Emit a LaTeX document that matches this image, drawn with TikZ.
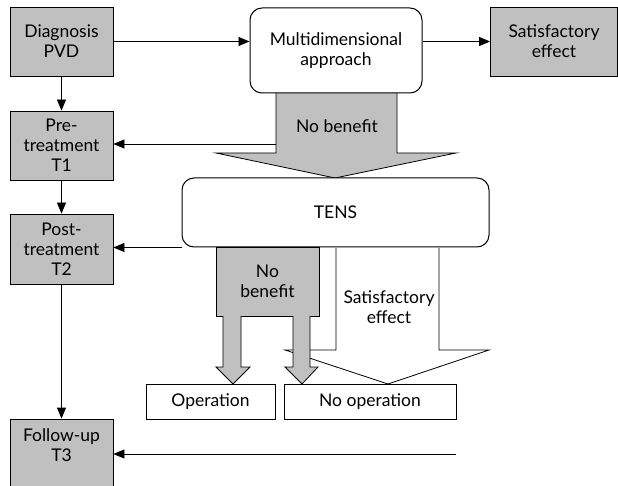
\documentclass[tikz,border=0pt]{standalone}
\usepackage{fontspec}
\setmainfont{Lato}
\usepackage{xcolor}
\usetikzlibrary{arrows.meta}
\definecolor{boxgray}{HTML}{C0C0C0}

\begin{document}
\begin{tikzpicture}[x=1pt,y=-1pt,
    font=\fontsize{17.5}{20}\selectfont,
    every path/.style={line width=0.8pt},
    graybox/.style={shape=rectangle, draw, fill=boxgray, align=center, inner sep=2pt},
    roundbox/.style={shape=rectangle, draw, fill=white, rounded corners=12pt, align=center, line width=1pt},
    whitebox/.style={shape=rectangle, draw, fill=white, align=center, inner sep=2pt},
    flow/.style={-{Triangle[length=11pt,width=9pt]}},
    blockarrow/.style={draw, fill=boxgray, line join=miter}]
    \useasboundingbox (0,0) rectangle (618,486);

    \node[graybox, minimum width=103, minimum height=69] (diag) at (61.5,41.5) {Diagnosis\\PVD};
    \node[graybox, minimum width=103, minimum height=69] (pre) at (61.5,145.5) {Pre-\\treatment\\T1};
    \node[graybox, minimum width=103, minimum height=70] (post) at (61.5,249) {Post-\\treatment\\T2};
    \node[graybox, minimum width=103, minimum height=70, text depth=18pt] (follow) at (61.5,454) {Follow-up\\T3};
    \node[graybox, minimum width=127, minimum height=69] (satis) at (554,41.5) {Satisfactory\\effect};

    \draw[blockarrow] (276,90) -- (276,153) -- (216,153) -- (335,178) -- (456,153) -- (397,153) -- (397,90);
    \node (nb1) at (337,126) {No benefit};
    \coordinate (nbl) at (276,144);

    \node[roundbox, minimum width=172, minimum height=85] (multi) at (336,50.5) {Multidimensional\\approach};
    \node[roundbox, minimum width=307, minimum height=69] (tens) at (335.5,212.5) {TENS};

    \draw (336,248) -- (336,350) -- (285,350) -- (388,384) -- (489,350) -- (439,350) -- (439,248);
    \node[align=center] (se) at (389,307) {Satisfactory\\effect};

    \node[graybox, minimum width=103, minimum height=69] (nb2) at (267.5,281.5) {No\\benefit};
    \draw[blockarrow] (223,316) -- (223,367) -- (216,367) -- (233,384) -- (250,367) -- (241,367) -- (241,316);
    \draw[blockarrow] (293,316) -- (293,367) -- (285,367) -- (302,384) -- (318,367) -- (310,367) -- (310,316);

    \node[whitebox, minimum width=129, minimum height=35] (oper) at (210.5,401.5) {Operation};
    \node[whitebox, minimum width=172, minimum height=35] (noop) at (370,401.5) {No operation};

    \draw[flow] (diag.east) -- (diag.east -| multi.west);
    \draw[flow] (satis.west -| multi.east) -- (satis.west);
    \draw[flow] (diag) -- (pre);
    \draw[flow] (pre) -- (post);
    \draw[flow] (post) -- (follow);
    \draw[flow] (nbl) -- (nbl -| pre.east);
    \draw[flow] (tens.south west) -- (tens.south west -| post.east);
    \draw[flow] (follow.east -| noop.east) -- (follow.east);
  \end{tikzpicture}
\end{document}
